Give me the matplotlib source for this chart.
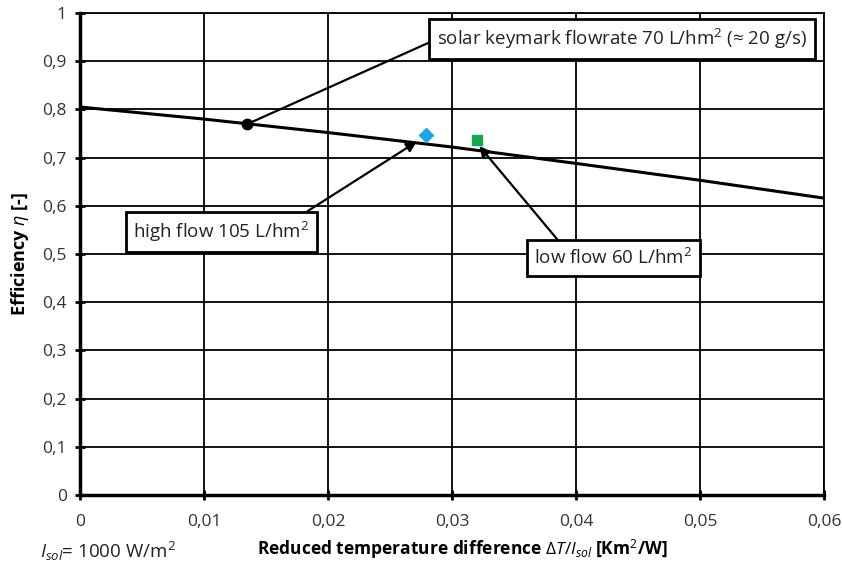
import matplotlib.pyplot as plt

plt.rcParams['font.family'] = ['Open Sans', 'DejaVu Sans']
plt.rcParams['mathtext.fontset'] = 'custom'
plt.rcParams['mathtext.it'] = 'Open Sans:italic'
plt.rcParams['mathtext.rm'] = 'Open Sans'
plt.rcParams['mathtext.bf'] = 'Open Sans:bold'

# collector efficiency curve
curve_x = [0, 0.01, 0.02, 0.03, 0.04, 0.05, 0.06]
curve_eta = [0.805, 0.780, 0.752, 0.722, 0.688, 0.653, 0.616]

# measured points
keymark_pt = (0.01344, 0.769)
high_pt = (0.0279, 0.747)
low_pt = (0.0320, 0.737)

# labels, text positions and arrow targets
labels = ['solar keymark flowrate 70 L/hm$^2$ (≈ 20 g/s)',
          'high flow 105 L/hm$^2$',
          'low flow 60 L/hm$^2$']
label_xy = [(0.0437, 0.946), (0.01141, 0.5456), (0.04302, 0.4917)]
arrow_to = [keymark_pt, (0.02715, 0.733), (0.0322, 0.724)]
arrow_from = [(0.0, 0.5), (0.91, 1.0), (0.19, 1.0)]
arrow_style = ['-', '-|>', '-|>']

xticks = [0, 0.01, 0.02, 0.03, 0.04, 0.05, 0.06]
yticks = [0, 0.1, 0.2, 0.3, 0.4, 0.5, 0.6, 0.7, 0.8, 0.9, 1]

fig = plt.figure(figsize=(8.42, 5.74), dpi=100)
ax = fig.add_axes([0.095, 0.1376, 0.8836, 0.8397])

ax.plot(curve_x, curve_eta, color='black', lw=2.2, zorder=3)
ax.plot(*keymark_pt, 'o', color='black', ms=7.5, zorder=4)
ax.plot(*high_pt, 'D', color='#1aa7e6', ms=7, zorder=4)
ax.plot(*low_pt, 's', color='#12a84e', ms=7.5, zorder=4)

for lab, xy, tgt, rp, st in zip(labels, label_xy, arrow_to, arrow_from, arrow_style):
    ax.annotate(lab, xy=tgt, xytext=xy, ha='center', va='center', fontsize=13.5,
                color='#222222', zorder=5,
                bbox=dict(boxstyle='square,pad=0.42', fc='white', ec='black', lw=2),
                arrowprops=dict(arrowstyle=st, color='black', lw=1.6,
                                relpos=rp, shrinkA=0, shrinkB=0,
                                mutation_scale=15))

ax.set_xlim(0, 0.06)
ax.set_ylim(0, 1)
ax.set_xticks(xticks)
ax.set_yticks(yticks)
ax.set_xticklabels([('%g' % v).replace('.', ',') for v in xticks], fontsize=12.5)
ax.set_yticklabels([('%g' % v).replace('.', ',') for v in yticks], fontsize=12.5)
ax.tick_params(direction='inout', length=7, width=2, color='black', labelcolor='#333333')
ax.tick_params(axis='x', pad=10)
ax.tick_params(axis='y', pad=6)
ax.grid(True, color='black', lw=1.3)
ax.set_axisbelow(True)
for s in ['top', 'right']:
    ax.spines[s].set_linewidth(1.3)
for s in ['left', 'bottom']:
    ax.spines[s].set_linewidth(2.5)

ax.set_ylabel(r'Efficiency $\eta$ [-]', fontsize=13, fontweight='bold', labelpad=8)
fig.text(0.549, 0.043, r'Reduced temperature difference $\mathit{\Delta T/I_{sol}}$ [Km$^2$/W]',
         ha='center', va='center', fontsize=12.5, fontweight='bold', color='black')
fig.text(0.047, 0.040, r'$I_{sol}$= 1000 W/m$^2$', ha='left', va='center',
         fontsize=13.5, color='#222222')

fig.savefig('out.png', dpi=100)
